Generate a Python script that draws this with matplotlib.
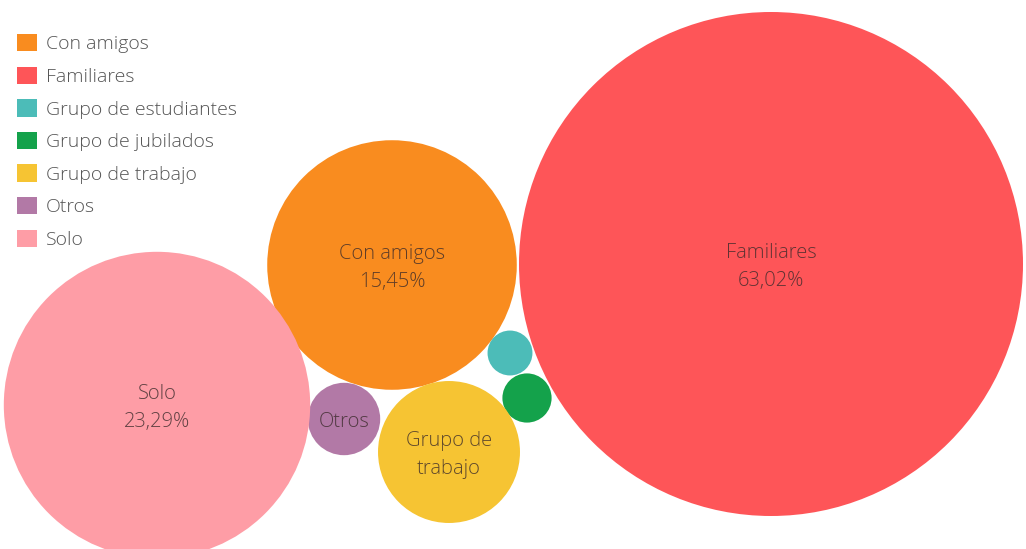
import numpy as np
import matplotlib.pyplot as plt
from matplotlib.patches import Circle, Patch

# categories and their share of visits (%)
categories = ['Con amigos', 'Familiares', 'Grupo de estudiantes', 'Grupo de jubilados',
              'Grupo de trabajo', 'Otros', 'Solo']
values = [15.45, 63.02, 0.5, 0.6, 5.0, 1.3, 23.29]
show_pct = [True, True, False, False, False, False, True]
bubble_labels = ['Con amigos', 'Familiares', '', '', 'Grupo de\ntrabajo', 'Otros', 'Solo']

colors = ['#F98C1F', '#FE5558', '#4CBCB8', '#14A24B', '#F6C433', '#B279A6', '#FE9DA6']

# packed layout (centres in pixel space, like Tableau's packed bubbles)
centres = [(392, 265), (771, 264), (510, 353), (527, 398), (449, 452), (344, 419), (157, 405)]

FONT = ['Open Sans', 'DejaVu Sans']
plt.rcParams['font.family'] = FONT

fig = plt.figure(figsize=(10.26, 5.49), dpi=100)
ax = fig.add_axes([0, 0, 1, 1])
ax.set_xlim(0, 1026)
ax.set_ylim(549, 0)
ax.set_aspect('equal')
ax.axis('off')

# bubble area proportional to value
scale = 252 / np.sqrt(max(values))
for cat, v, c, (cx, cy), lab, pct in zip(categories, values, colors, centres, bubble_labels, show_pct):
    r = scale * np.sqrt(v)
    ax.add_patch(Circle((cx, cy), r, facecolor=c, edgecolor='none'))
    if lab:
        txt = lab
        if pct:
            txt = lab + '\n' + f'{v:.2f}'.replace('.', ',') + '%'
        ax.text(cx, cy + 3, txt, ha='center', va='center', fontsize=14.5,
                color='#3a2a2a', alpha=0.8, linespacing=1.55, fontweight='light')

handles = [Patch(facecolor=c, edgecolor='none') for c in colors]
ax.legend(handles, categories, loc='upper left', bbox_to_anchor=(0.017, 0.938),
          frameon=False, prop={'size': 14, 'weight': 'light'}, handlelength=1.0,
          handleheight=1.0, handletextpad=0.45, labelspacing=0.68, borderaxespad=0,
          borderpad=0, labelcolor='#555555')

fig.savefig('out.png', dpi=100)
